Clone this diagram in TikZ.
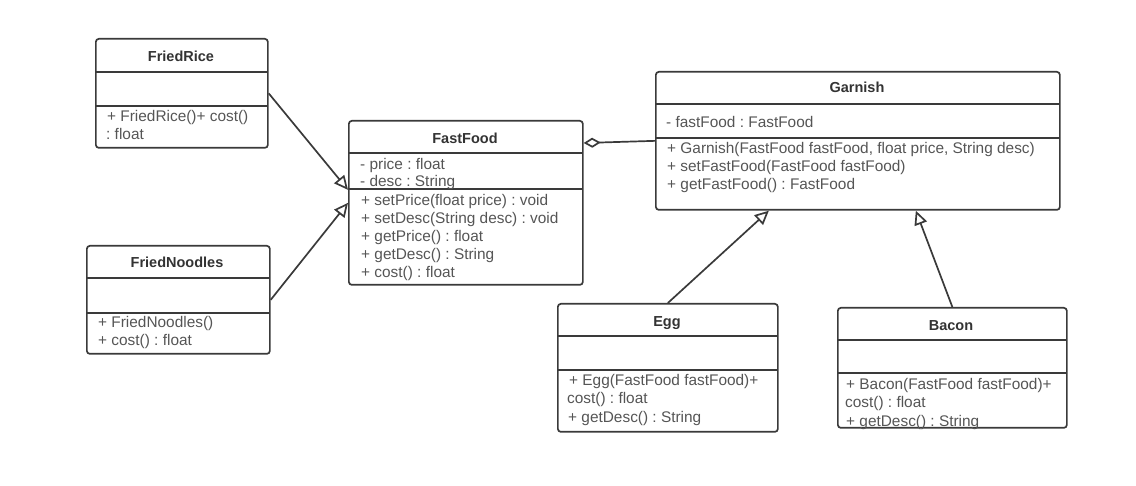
\documentclass[tikz,border=0pt]{standalone}
\usepackage{fontspec}
\setmainfont{Liberation Sans}
\usetikzlibrary{arrows.meta}
\definecolor{linegray}{HTML}{3A3A3A}
\definecolor{textgray}{HTML}{555555}
\definecolor{titlegray}{HTML}{333333}
\frenchspacing

\begin{document}
\begin{tikzpicture}[x=1pt,y=-1pt,
  box/.style={draw=linegray, line width=1.7pt, rounded corners=3pt, inner sep=0pt, anchor=north west},
  sep/.style={draw=linegray, line width=1.7pt},
  title/.style={anchor=base, inner sep=0pt, text=titlegray, font=\fontsize{14.5}{18}\selectfont\bfseries},
  member/.style={anchor=base west, inner sep=0pt, text=textgray, font=\fontsize{15.4}{18}\selectfont},
  inherit/.style={draw=linegray, line width=1.7pt, -{Triangle[open, length=14pt, width=13pt, fill=white]}},
  aggregate/.style={draw=linegray, line width=1.7pt, {Diamond[open, length=17pt, width=10pt, fill=white]}-}]

\useasboundingbox (0,0) rectangle (1136,486);

%% FriedRice
\node[box, minimum width=172pt, minimum height=109pt] (friedrice) at (95,38) {};
\draw[sep] (95,72) -- (267,72);
\draw[sep] (95,106) -- (267,106);
\node[title] (friedricename) at (181,62) {FriedRice};
\node[member] (friedriceop1) at (107,122) {+ FriedRice()+ cost()};
\node[member] (friedriceop2) at (106,140) {: float};

%% FriedNoodles
\node[box, minimum width=183pt, minimum height=108pt] (friednoodles) at (86,245) {};
\draw[sep] (86,278) -- (269,278);
\draw[sep] (86,313) -- (269,313);
\node[title] (friednoodlesname) at (177,268) {FriedNoodles};
\node[member] (friednoodlesop1) at (98,328) {+ FriedNoodles()};
\node[member] (friednoodlesop2) at (98,346) {+ cost() : float};

%% FastFood
\node[box, minimum width=234pt, minimum height=164pt] (fastfood) at (348,120) {};
\draw[sep] (348,153) -- (582,153);
\draw[sep] (348,189) -- (582,189);
\node[title] (fastfoodname) at (465,144) {FastFood};
\node[member] (fastfoodattr1) at (360,170) {- price : float};
\node[member] (fastfoodattr2) at (360,187) {- desc : String};
\node[member] (fastfoodop1) at (361,206) {+ setPrice(float price) : void};
\node[member] (fastfoodop2) at (361,224) {+ setDesc(String desc) : void};
\node[member] (fastfoodop3) at (361,242) {+ getPrice() : float};
\node[member] (fastfoodop4) at (361,260) {+ getDesc() : String};
\node[member] (fastfoodop5) at (361,278) {+ cost() : float};

%% Garnish
\node[box, minimum width=404pt, minimum height=138pt] (garnish) at (655,71) {};
\draw[sep] (655,104) -- (1059,104);
\draw[sep] (655,138) -- (1059,138);
\node[title] (garnishname) at (857,93) {Garnish};
\node[member] (garnishattr1) at (666,128) {- fastFood : FastFood};
\node[member] (garnishop1) at (667,154) {+ Garnish(FastFood fastFood, float price, String desc)};
\node[member] (garnishop2) at (667,172) {+ setFastFood(FastFood fastFood)};
\node[member] (garnishop3) at (667,190) {+ getFastFood() : FastFood};

%% Egg
\node[box, minimum width=220pt, minimum height=128pt] (egg) at (557,303) {};
\draw[sep] (557,336) -- (777,336);
\draw[sep] (557,370) -- (777,370);
\node[title] (eggname) at (667,327) {Egg};
\node[member] (eggop1) at (569,386) {+ Egg(FastFood fastFood)+};
\node[member] (eggop2) at (567,404) {cost() : float};
\node[member] (eggop3) at (568,423) {+ getDesc() : String};

%% Bacon
\node[box, minimum width=229pt, minimum height=120pt] (bacon) at (837,307) {};
\draw[sep] (837,340) -- (1066,340);
\draw[sep] (837,373) -- (1066,373);
\node[title] (baconname) at (951,331) {Bacon};
\node[member] (baconop1) at (846,390) {+ Bacon(FastFood fastFood)+};
\node[member] (baconop2) at (845,408) {cost() : float};
\node[member] (baconop3) at (846,427) {+ getDesc() : String};

%% Connectors
\draw[inherit] (friedrice.east) -- ([yshift=13pt]fastfood.west);
\draw[inherit] (friednoodles.east) -- (fastfood.west);
\draw[aggregate] ([yshift=-23pt]fastfood.north east) -- (garnish.west);
\draw[inherit] (egg.north) -- ([xshift=-89pt]garnish.south);
\draw[inherit] (bacon.north) -- ([xshift=58pt]garnish.south);

\end{tikzpicture}
\end{document}
